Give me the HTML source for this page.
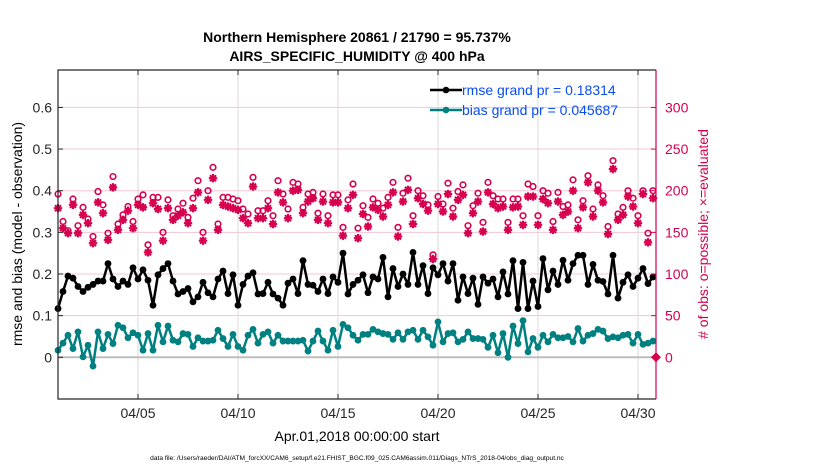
<!DOCTYPE html>
<html><head><meta charset="utf-8">
<style>
html,body{margin:0;padding:0;background:#fff;}
svg{display:block;font-family:"Liberation Sans",Arial,sans-serif;}
</style></head>
<body>
<svg id="chart" width="830" height="470" viewBox="0 0 830 470" xmlns="http://www.w3.org/2000/svg">
<text x="357" y="42" text-anchor="middle" font-size="14" font-weight="bold">Northern Hemisphere 20861 / 21790 = 95.737%</text>
<text x="357" y="61" text-anchor="middle" font-size="14" font-weight="bold">AIRS_SPECIFIC_HUMIDITY @ 400 hPa</text>
<g id="grid"></g>
<g id="marks"></g>
<g id="axes"></g>
<text transform="translate(22,234) rotate(-90)" text-anchor="middle" font-size="14">rmse and bias (model - observation)</text>
<text transform="translate(708,234) rotate(-90)" text-anchor="middle" font-size="14" fill="#d6004f">  # of obs: o=possible; ×=evaluated</text>
<text x="357" y="441" text-anchor="middle" font-size="14">Apr.01,2018 00:00:00 start</text>
<text x="357" y="460" text-anchor="middle" font-size="6.6">data file: /Users/raeder/DAI/ATM_forcXX/CAM6_setup/f.e21.FHIST_BGC.f09_025.CAM6assim.011/Diags_NTrS_2018-04/obs_diag_output.nc</text>
<g>
<line x1="430" y1="90" x2="462" y2="90" stroke="#000" stroke-width="2.5"/>
<circle cx="446" cy="90" r="3.3" fill="#000"/>
<text x="462" y="95" font-size="14" fill="#0a4cf0">rmse grand pr = 0.18314</text>
<line x1="430" y1="110" x2="462" y2="110" stroke="#008080" stroke-width="2.5"/>
<circle cx="446" cy="110" r="3.3" fill="#008080"/>
<text x="462" y="115" font-size="14" fill="#0a4cf0">bias grand pr = 0.045687</text>
</g>
</svg>
<script>
const rmse=[0.117,0.158,0.195,0.19,0.17,0.158,0.168,0.175,0.183,0.183,0.225,0.188,0.17,0.183,0.175,0.215,0.188,0.21,0.185,0.125,0.198,0.213,0.225,0.183,0.152,0.158,0.165,0.133,0.145,0.18,
0.155,0.145,0.188,0.207,0.153,0.198,0.125,0.175,0.195,0.203,0.152,0.153,0.18,0.152,0.142,0.125,0.178,0.188,0.153,0.232,0.175,0.173,0.158,0.188,0.153,0.193,0.18,0.25,0.152,0.175,
0.185,0.198,0.155,0.193,0.188,0.24,0.145,0.213,0.17,0.2,0.175,0.252,0.175,0.22,0.153,0.215,0.198,0.225,0.183,0.225,0.137,0.193,0.153,0.19,0.127,0.193,0.178,0.188,0.145,0.205,
0.152,0.232,0.117,0.228,0.117,0.183,0.122,0.237,0.162,0.207,0.175,0.233,0.185,0.225,0.245,0.245,0.175,0.223,0.185,0.182,0.152,0.245,0.142,0.18,0.198,0.17,0.19,0.213,0.177,0.193];
const bias=[0.017,0.034,0.053,0.021,0.061,0.001,0.029,-0.021,0.061,0.021,0.055,0.033,0.077,0.071,0.047,0.059,0.053,0.017,0.057,0.017,0.077,0.037,0.075,0.041,0.037,0.057,0.055,0.026,0.047,0.039,
0.039,0.041,0.065,0.045,0.026,0.055,0.026,0.017,0.053,0.067,0.034,0.055,0.061,0.034,0.053,0.039,0.039,0.039,0.039,0.041,0.015,0.039,0.063,0.039,0.017,0.065,0.026,0.079,0.071,0.053,
0.041,0.055,0.055,0.067,0.061,0.057,0.055,0.043,0.059,0.043,0.061,0.065,0.043,0.065,0.049,0.029,0.085,0.037,0.057,0.059,0.037,0.043,0.061,0.045,0.045,0.043,0.024,0.053,0.011,0.057,
0.0,0.075,0.033,0.088,0.013,0.045,0.024,0.053,0.037,0.055,0.047,0.047,0.05,0.037,0.069,0.039,0.053,0.057,0.067,0.063,0.045,0.049,0.047,0.053,0.055,0.034,0.055,0.031,0.034,0.039];
const evaluated=[179,155,149,183,149,171,161,137,186,173,141,204,153,165,176,155,183,180,126,185,178,140,179,165,170,174,161,179,198,140,
189,215,153,183,181,179,177,167,161,205,167,167,179,160,198,186,167,200,201,173,187,191,165,187,161,186,186,146,179,195,
143,172,157,180,177,169,183,198,145,187,201,160,191,184,176,118,184,175,196,169,189,195,149,173,187,151,198,184,179,181,
153,180,181,159,193,193,159,190,185,153,187,171,175,200,155,180,210,169,200,186,148,226,165,171,193,181,161,196,138,191];
const possible=[196,163,152,190,158,180,166,145,199,183,149,217,160,171,181,163,190,195,135,192,192,150,189,170,178,185,168,191,212,150,
200,228,160,192,192,190,188,178,172,216,176,176,188,170,212,196,178,210,208,180,196,198,173,196,170,195,195,156,189,208,
155,182,168,190,185,179,192,210,156,197,215,170,200,194,183,123,193,184,209,179,199,207,158,182,197,162,210,194,190,190,
162,190,190,170,208,205,170,200,197,163,198,181,183,213,165,188,218,178,207,194,157,236,172,180,200,191,170,200,149,200];
const xTickDays=[4,9,14,19,24,29];
const xTickLabels=["04/05","04/10","04/15","04/20","04/25","04/30"];
const yLeftTicks=[0,0.1,0.2,0.3,0.4,0.5,0.6];
const yRightTicks=[0,50,100,150,200,250,300];

const NS="http://www.w3.org/2000/svg";
const L=58,R=656,T=70,B=399;
const stepDays=0.25;
function xDay(d){return L+d*20;}
function yL(v){return 357.3-v*416.5;}
function yR(n){return yL(n/500);}
function mk(tag,attrs,parent){const e=document.createElementNS(NS,tag);for(const k in attrs)e.setAttribute(k,attrs[k]);parent.appendChild(e);return e;}
const grid=document.getElementById('grid'),marks=document.getElementById('marks'),axes=document.getElementById('axes');

yRightTicks.forEach(n=>{if(n===0)return;const l=mk('line',{x1:L,x2:R,y1:yR(n),y2:yR(n),stroke:'#f3c6d6','stroke-width':1},grid);

});
xTickDays.forEach(d=>{const l=mk('line',{x1:xDay(d),x2:xDay(d),y1:T,y2:B,stroke:'#d8d8d8','stroke-width':1},grid);

});
const zl=mk('line',{x1:L,x2:R,y1:yL(0),y2:yL(0),stroke:'#bdbdbd','stroke-width':2},grid);



possible.forEach((n,i)=>{const c=mk('circle',{cx:xDay(i*stepDays),cy:yR(n),r:2.8,fill:'none',stroke:'#d6004f','stroke-width':1.6},marks);

});
evaluated.forEach((n,i)=>{const x=xDay(i*stepDays),y=yR(n);const g=mk('g',{stroke:'#d6004f','stroke-width':2.1},marks);


mk('line',{x1:x-4.2,x2:x+4.2,y1:y,y2:y},g);mk('line',{x1:x,x2:x,y1:y-4.2,y2:y+4.2},g);
mk('line',{x1:x-3,x2:x+3,y1:y-3,y2:y+3},g);mk('line',{x1:x-3,x2:x+3,y1:y+3,y2:y-3},g);});

function series(arr,color,name){
 const p=mk('polyline',{points:arr.map((v,i)=>xDay(i*stepDays)+','+yL(v)).join(' '),fill:'none',stroke:color,'stroke-width':2.5,'stroke-linejoin':'round'},marks);
 
 
 arr.forEach((v,i)=>{const c=mk('circle',{cx:xDay(i*stepDays),cy:yL(v),r:3.4,fill:color},marks);
 
 });
}
series(bias,'#008080','bias');
series(rmse,'#000000','rmse');

const ax1=mk('path',{d:`M${R},${T} L${L},${T} L${L},${B} L${R},${B}`,fill:'none',stroke:'#262626','stroke-width':1.2},axes);


const ax2=mk('line',{x1:R,x2:R,y1:T,y2:B,stroke:'#d6004f','stroke-width':1.2},axes);


yLeftTicks.forEach(v=>{mk('line',{x1:L,x2:L+5,y1:yL(v),y2:yL(v),stroke:'#262626'},axes);
 const t=mk('text',{x:L-6,y:yL(v)+5,'text-anchor':'end','font-size':14,fill:'#262626'},axes);t.textContent=String(v);
 
 });
yRightTicks.forEach(n=>{mk('line',{x1:R-5,x2:R,y1:yR(n),y2:yR(n),stroke:'#d6004f'},axes);
 const t=mk('text',{x:R+9,y:yR(n)+5,'font-size':14,fill:'#d6004f'},axes);t.textContent=String(n);
 
 });
mk('path',{d:`M${R-5},${yR(0)} L${R},${yR(0)-5} L${R+5},${yR(0)} L${R},${yR(0)+5}Z`,fill:'#d6004f'},axes);
xTickDays.forEach((d,i)=>{mk('line',{x1:xDay(d),x2:xDay(d),y1:B,y2:B-5,stroke:'#262626'},axes);
 mk('line',{x1:xDay(d),x2:xDay(d),y1:T,y2:T+5,stroke:'#262626'},axes);
 const t=mk('text',{x:xDay(d),y:B+19,'text-anchor':'middle','font-size':14,fill:'#262626'},axes);t.textContent=xTickLabels[i];
 
 });
</script>
</body></html>
